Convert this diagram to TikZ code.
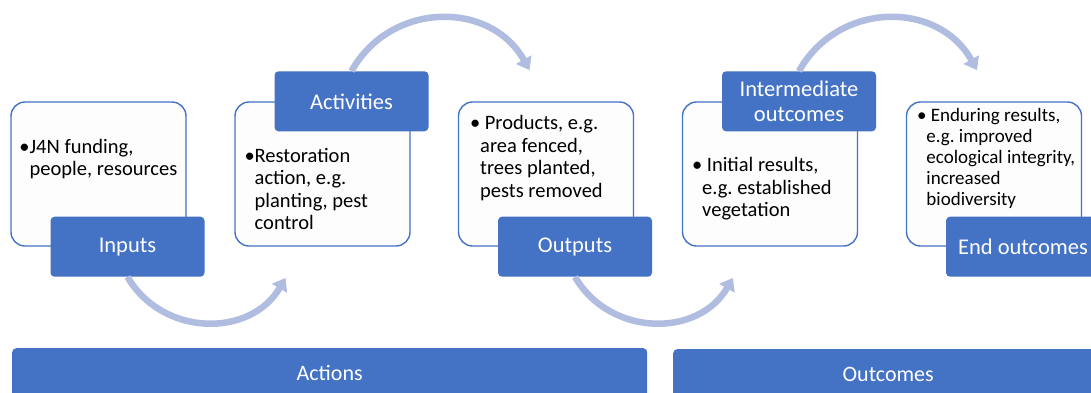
\documentclass[tikz,border=0pt]{standalone}
\usepackage{fontspec}
\setmainfont{Carlito}
\usetikzlibrary{calc,positioning,arrows.meta}
\definecolor{blueA}{RGB}{68,114,196}
\definecolor{arcBlue}{RGB}{176,189,224}
\definecolor{boxFill}{RGB}{253,253,253}
\frenchspacing

\begin{document}
\begin{tikzpicture}[x=1pt,y=-1pt,
  content/.style={draw=blueA, line width=1.4pt, fill=boxFill, rounded corners=14pt,
    minimum width=175pt, minimum height=144pt},
  stage/.style={fill=blueA, rounded corners=4pt, minimum width=154pt, minimum height=60pt,
    text=white, align=center, font=\fontsize{22.5}{24.7}\selectfont},
  bullets/.style={align=left, inner sep=0pt, anchor=west, font=\fontsize{20.5}{22.5}\selectfont},
  bar/.style={fill=blueA, rounded corners=4pt, text=white, anchor=north west,
    minimum height=50pt, font=\fontsize{22}{24}\selectfont},
  swoop/.style={draw=arcBlue, line width=6.5pt, -{Triangle[width=17pt,length=12pt]}}]
  \useasboundingbox (0,0) rectangle (1091,392);

  %% The five content boxes
  \foreach \n/\x in {1/98.5,2/322.5,3/546,4/770,5/994}
  {
    \node[content] (B\n) at (\x,174) {};
  }

  %% Texts inside the boxes
  \node[bullets] (T1) at ($(B1.west)+(9,-15)$)
    {\textbullet J4N funding,\\\phantom{\textbullet}people, resources};
  \node[bullets] (T2) at ($(B2.west)+(10,15)$)
    {\textbullet Restoration\\\phantom{\textbullet}action, e.g.\\\phantom{\textbullet}planting, pest\\\phantom{\textbullet}control};
  \node[bullets] (T3) at ($(B3.west)+(12,-16)$)
    {\textbullet{} Products, e.g.\\\phantom{\textbullet}area fenced,\\\phantom{\textbullet}trees planted,\\\phantom{\textbullet}pests removed};
  \node[bullets] (T4) at ($(B4.west)+(10,15)$)
    {\textbullet{} Initial results,\\\phantom{\textbullet}e.g. established\\\phantom{\textbullet}vegetation};
  \node[bullets, font=\fontsize{19}{21}\selectfont] (T5) at ($(B5.west)+(11,-16)$)
    {\textbullet{} Enduring results,\\\phantom{\textbullet}e.g. improved\\\phantom{\textbullet}ecological integrity,\\\phantom{\textbullet}increased\\\phantom{\textbullet}biodiversity};

  %% Stage labels on the boxes
  \node[stage] (inputs) at ($(B1.south)+(29,0)$) {Inputs};
  \node[stage] (activities) at ($(B2.north)+(29,0)$) {Activities};
  \node[stage] (outputs) at ($(B3.south)+(29,0)$) {Outputs};
  \node[stage] (intermediate) at ($(B4.north)+(29,0)$) {Intermediate\\outcomes};
  \node[stage] (endout) at ($(B5.south)+(29,0)$) {End outcomes};

  %% Curved arrows between the stages
  \foreach \s in {inputs,outputs}
  {
    \coordinate (\s-end) at ($(\s.south)+(158,1)$);
    \draw[swoop] (\s.south) .. controls +(35,60) and +(-35,60) .. (\s-end);
  }
  \foreach \s in {activities,intermediate}
  {
    \coordinate (\s-end) at ($(\s.north)+(178,-1)$);
    \draw[swoop] (\s.north) .. controls +(39,-70) and +(-39,-70) .. (\s-end);
  }

  %% Bottom bars
  \node[bar, minimum width=635pt] (actions) at (12,348) {Actions};
  \node[bar, minimum width=430pt] (outcomes) at (673,349) {Outcomes};
\end{tikzpicture}
\end{document}
